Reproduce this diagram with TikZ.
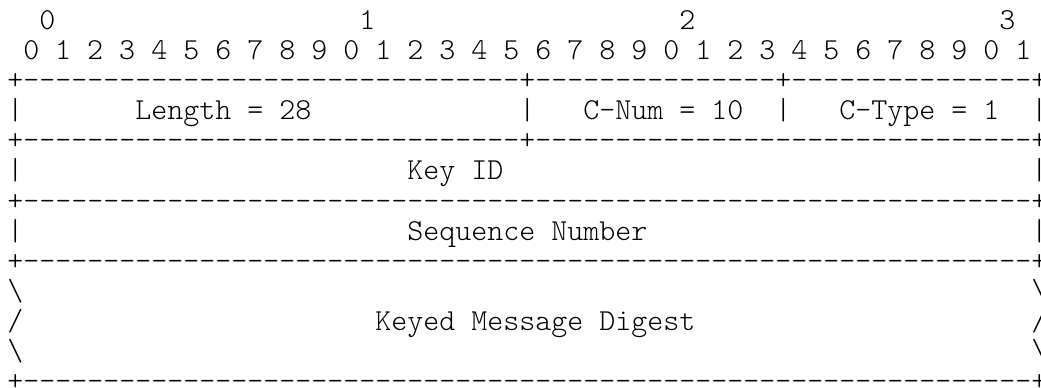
\documentclass[tikz,border=0pt]{standalone}
\usepackage{fontspec}
\newfontfamily\asciifont{lmmonolt10-regular.otf}
\usepackage{tikz}
\newcommand\dashten{----------}

\begin{document}
\begin{tikzpicture}[
    x=0.75pt, y=-0.75pt,
    cell/.style={anchor=base west, inner sep=0pt, font=\asciifont\fontsize{22.86pt}{25pt}\selectfont}
]
\useasboundingbox (0,0) rectangle (1041,388);
% column c starts at 7+16c, row r sits on baseline 30+30r
\node [cell] (n0) at (39,30) {0};
\node [cell] (n1) at (359,30) {1};
\node [cell] (n2) at (679,30) {2};
\node [cell] (n3) at (999,30) {3};
\node [cell] (bits) at (23,60) {0 1 2 3 4 5 6 7 8 9 0 1 2 3 4 5 6 7 8 9 0 1 2 3 4 5 6 7 8 9 0 1};

% first word
\node [cell] (top) at (7,90) {+\dashten\dashten\dashten-+\dashten-----+\dashten-----+};
\node [cell] (bl1) at (7,120) {|};
\node [cell] (bm1) at (519,120) {|};
\node [cell] (bm2) at (775,120) {|};
\node [cell] (br1) at (1031,120) {|};
\node [cell] (len) at (135,120) {Length = 28};
\node [cell] (cnum) at (583,120) {C-Num = 10};
\node [cell] (ctype) at (839,120) {C-Type = 1};
\node [cell] (sep1) at (7,150) {+\dashten\dashten\dashten-+\dashten\dashten\dashten-+};

% key id and sequence number
\node [cell] (bl2) at (7,180) {|};
\node [cell] (br2) at (1031,180) {|};
\node [cell] (keyid) at (407,180) {Key ID};
\node [cell] (sep2) at (7,210) {+\dashten\dashten\dashten\dashten\dashten\dashten---+};
\node [cell] (bl3) at (7,240) {|};
\node [cell] (br3) at (1031,240) {|};
\node [cell] (seqno) at (407,240) {Sequence Number};
\node [cell] (sep3) at (7,270) {+\dashten\dashten\dashten\dashten\dashten\dashten---+};

% digest, variable length
\node [cell] (bl4) at (7,300) {\textbackslash};
\node [cell] (br4) at (1031,300) {\textbackslash};
\node [cell] (bl5) at (7,330) {/};
\node [cell] (br5) at (1031,330) {/};
\node [cell] (digest) at (375,330) {Keyed Message Digest};
\node [cell] (bl6) at (7,360) {\textbackslash};
\node [cell] (br6) at (1031,360) {\textbackslash};
\node [cell] (bottom) at (7,390) {+\dashten\dashten\dashten\dashten\dashten\dashten---+};
\end{tikzpicture}
\end{document}
